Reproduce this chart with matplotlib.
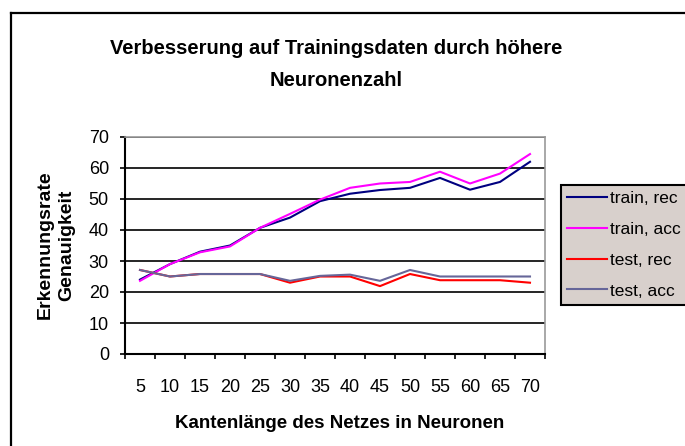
import numpy as np
import matplotlib
matplotlib.use("Agg")
import matplotlib.pyplot as plt
from matplotlib.lines import Line2D

plt.rcParams['font.family'] = ['Liberation Sans', 'DejaVu Sans']

kanten = ['5', '10', '15', '20', '25', '30', '35', '40', '45', '50', '55', '60', '65', '70']
train_rec = [24, 29, 33, 35, 40.7, 44, 49.3, 51.7, 52.9, 53.6, 56.8, 53, 55.5, 62]
train_acc = [23.6, 29, 32.8, 34.7, 40.7, 45.2, 49.8, 53.6, 55, 55.5, 58.8, 55, 58.2, 64.5]
test_rec = [27.1, 25, 25.8, 25.8, 25.8, 23, 25, 25, 21.9, 25.8, 23.8, 23.8, 23.8, 23]
test_acc = [27.1, 25, 25.8, 25.8, 25.8, 23.6, 25.2, 25.6, 23.6, 27.1, 25, 25, 25, 25]

W, H = 685, 446
fig = plt.figure(figsize=(W / 100, H / 100), dpi=100)

# aeusserer Rahmen (links und oben)
fig.add_artist(Line2D([11 / W, 11 / W], [0, 1 - 13 / H], color='black', lw=1.6))
fig.add_artist(Line2D([11 / W, 1], [1 - 13 / H, 1 - 13 / H], color='black', lw=1.6))

ax = fig.add_axes([125 / W, 1 - 354 / H, 420 / W, 217 / H])
x = np.arange(len(kanten))

ax.plot(x, train_rec, color='#000080', lw=1.5, label='train, rec')
ax.plot(x, train_acc, color='#ff00ff', lw=1.5, label='train, acc')
ax.plot(x, test_rec, color='#ff0000', lw=1.5, label='test, rec')
ax.plot(x, test_acc, color='#666699', lw=1.5, label='test, acc')

ax.set_xlim(-0.5, len(kanten) - 0.5)
ax.set_ylim(0, 70)
ax.set_yticks(range(0, 71, 10))
ax.yaxis.grid(True, color='black', lw=1.2)
ax.set_axisbelow(True)

ax.set_xticks(x)
ax.set_xticklabels(kanten, fontsize=13)
ax.set_xticks(np.arange(-0.5, len(kanten)), minor=True)
ax.tick_params(axis='x', which='major', length=0, pad=18)
ax.tick_params(axis='x', which='minor', length=3.6, width=1.2, direction='out')
ax.tick_params(axis='y', length=3.6, width=1.2, labelsize=13, pad=8)

for s in ['top', 'right']:
    ax.spines[s].set_color('#999999')
    ax.spines[s].set_linewidth(1.2)
for s in ['left', 'bottom']:
    ax.spines[s].set_linewidth(1.5)

fig.text(336 / W, 1 - 49 / H, 'Verbesserung auf Trainingsdaten durch höhere',
         ha='center', va='center', fontsize=14.5, fontweight='bold')
fig.text(336 / W, 1 - 80 / H, 'Neuronenzahl',
         ha='center', va='center', fontsize=14.5, fontweight='bold')
fig.text(340 / W, 1 - 424 / H, 'Kantenlänge des Netzes in Neuronen',
         ha='center', va='center', fontsize=13.5, fontweight='bold')
fig.text(56 / W, 1 - 245 / H, 'Erkennungsrate\nGenauigkeit', rotation=90,
         ha='center', va='center', fontsize=14, fontweight='bold', linespacing=1.4)

leg = ax.legend(loc='upper left', bbox_to_anchor=(561 / W, 1 - 185 / H),
                bbox_transform=fig.transFigure, fontsize=12.5, frameon=True,
                fancybox=False, handlelength=2.3, handletextpad=0.2,
                labelspacing=0.9, borderpad=0.35, borderaxespad=0)
leg.get_frame().set_facecolor('#d8d0cc')
leg.get_frame().set_edgecolor('black')
leg.get_frame().set_linewidth(1.5)
leg.get_frame().set_alpha(1)

fig.savefig('out.png', dpi=100)
